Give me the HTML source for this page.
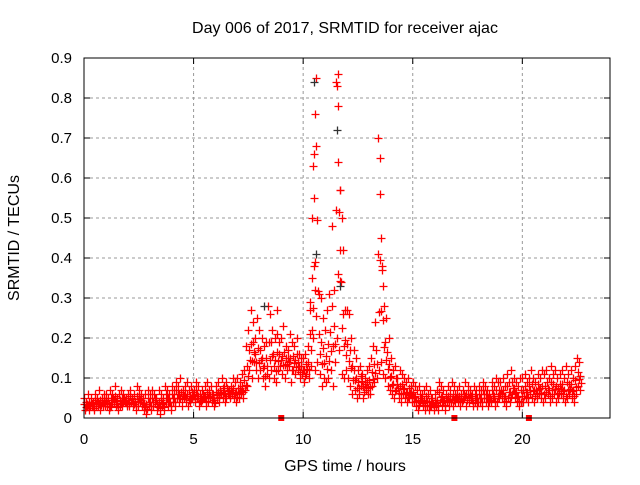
<!DOCTYPE html>
<html><head><meta charset="utf-8"><style>
body{margin:0;background:#fff;}
svg text{font-family:"Liberation Sans",sans-serif;font-size:15px;fill:#000;}
svg text.big{font-size:16px;}
</style></head><body>
<svg id="chart" width="640" height="480" xmlns="http://www.w3.org/2000/svg">
<rect width="640" height="480" fill="#fff"/>
<text class="big" x="345" y="33" text-anchor="middle">Day 006 of 2017, SRMTID for receiver ajac</text>
<text class="big" transform="translate(19,238) rotate(-90)" text-anchor="middle">SRMTID / TECUs</text>
<text class="big" x="345" y="471" text-anchor="middle">GPS time / hours</text>
<g id="grid"></g>
<g id="marks"></g>
<rect x="84" y="58" width="526" height="360" fill="none" stroke="#000" stroke-width="1"/>
</svg>
<script>
const xTicks=[0,5,10,15,20];
const yTicks=[0,0.1,0.2,0.3,0.4,0.5,0.6,0.7,0.8,0.9];
const startHour=0, stepHour=0.1;
const upperVals=[.05,.04,.06,.05,.04,.06,.05,.07,.05,.06,.06,.05,.07,.06,.08,.05,.06,.07,.06,.05,.06,.07,.05,.06,.08,.07,.06,.05,.06,.07,.06,.07,.06,.05,.07,.06,.05,.08,.07,.06,.08,.07,.09,.08,.1,.07,.08,.09,.07,.08,.07,.09,.08,.06,.07,.08,.09,.07,.08,.06,.08,.09,.07,.1,.08,.09,.07,.08,.1,.09,.1,.09,.11,.12,.18,.22,.27,.24,.2,.25,.22,.2,.18,.19,.28,.26,.22,.2,.21,.19,.2,.23,.18,.17,.21,.19,.18,.2,.16,.15,.15,.16,.18,.29,.5,.66,.85,.31,.3,.25,.22,.27,.31,.48,.32,.84,.86,.57,.42,.27,.27,.26,.2,.17,.15,.12,.13,.11,.1,.12,.13,.15,.18,.24,.7,.65,.38,.28,.25,.2,.15,.12,.13,.1,.12,.11,.1,.09,.1,.08,.09,.08,.07,.08,.06,.07,.08,.06,.07,.05,.06,.07,.09,.08,.07,.06,.08,.07,.09,.08,.07,.08,.06,.07,.09,.08,.07,.06,.08,.07,.08,.07,.09,.08,.07,.06,.09,.08,.1,.09,.09,.1,.08,.11,.09,.12,.1,.09,.08,.1,.1,.11,.09,.1,.12,.1,.09,.11,.1,.12,.11,.12,.1,.13,.11,.12,.1,.11,.12,.1,.13,.11,.12,.1,.13,.15,.14];
const lowerVals=[.02,.03,.02,.03,.02,.03,.03,.02,.03,.03,.03,.02,.03,.04,.03,.02,.03,.03,.04,.03,.03,.04,.03,.02,.03,.04,.03,.02,.01,.03,.02,.03,.04,.02,.01,.03,.02,.04,.03,.02,.04,.03,.05,.04,.03,.05,.04,.03,.04,.05,.04,.05,.03,.04,.05,.03,.04,.05,.04,.03,.05,.04,.06,.05,.04,.06,.05,.06,.05,.04,.05,.06,.05,.07,.08,.12,.1,.14,.12,.1,.12,.1,.08,.11,.1,.12,.1,.09,.12,.13,.11,.1,.12,.13,.09,.12,.11,.12,.1,.11,.09,.11,.1,.13,.2,.12,.14,.11,.08,.1,.09,.1,.12,.08,.14,.2,.17,.11,.1,.12,.1,.08,.06,.07,.05,.06,.08,.05,.07,.06,.06,.08,.09,.1,.12,.14,.11,.1,.08,.07,.06,.05,.07,.05,.04,.06,.05,.04,.05,.04,.04,.03,.02,.04,.03,.02,.03,.02,.03,.02,.03,.02,.04,.03,.02,.04,.03,.04,.03,.04,.04,.03,.04,.05,.03,.04,.05,.03,.04,.03,.04,.03,.05,.04,.03,.04,.05,.03,.04,.05,.05,.04,.03,.05,.04,.06,.05,.04,.03,.04,.04,.05,.04,.06,.05,.04,.05,.06,.05,.04,.05,.06,.04,.05,.06,.04,.05,.06,.05,.04,.05,.06,.05,.04,.06,.08,.07];
const spikeTimes=[10.5,10.55,10.6,10.45,10.5,10.6,10.5,10.55,11.55,11.6,11.55,11.6,11.7,11.75,11.7,11.7,13.55,13.5,13.6,13.65,8.2,8.8,10.3,10.4];
const spikeVals=[.84,.76,.68,.63,.55,.41,.38,.32,.83,.78,.72,.64,.57,.5,.42,.33,.45,.56,.37,.33,.28,.27,.27,.22];
const gapTimes=[9.0,16.9,20.3];

const X0=84,X1=610,Y0=418,Y1=58;
const xs=h=>X0+h/24*(X1-X0);
const ys=v=>Y0-v/0.9*(Y0-Y1);
const NS="http://www.w3.org/2000/svg";
const grid=document.getElementById('grid'), marks=document.getElementById('marks');
function mk(tag,attrs,parent){const e=document.createElementNS(NS,tag);for(const k in attrs)e.setAttribute(k,attrs[k]);parent.appendChild(e);return e;}
yTicks.forEach(v=>{
  const y=ys(v);
  if(v>0&&v<0.9){const l=mk('line',{x1:X0,x2:X1,y1:y,y2:y,stroke:'#999','stroke-dasharray':'3,3'},grid);
  
  }
  const t=mk('text',{x:X0-12,y:y+5,'text-anchor':'end'},grid);t.textContent=String(v);
  
  
  mk('line',{x1:X0,x2:X0+6,y1:y,y2:y,stroke:'#000'},grid);
  mk('line',{x1:X1,x2:X1-6,y1:y,y2:y,stroke:'#000'},grid);
});
xTicks.forEach(h=>{
  const x=xs(h);
  if(h>0){const l=mk('line',{x1:x,x2:x,y1:Y0,y2:Y1,stroke:'#999','stroke-dasharray':'3,3'},grid);
  
  }
  const t=mk('text',{x:x,y:Y0+26,'text-anchor':'middle'},grid);t.textContent=String(h);
  
  
  mk('line',{x1:x,x2:x,y1:Y0,y2:Y0-6,stroke:'#000'},grid);
  mk('line',{x1:x,x2:x,y1:Y1,y2:Y1+6,stroke:'#000'},grid);
});
function plus(h,v,col){
  const x=Math.round(xs(h))+0.5,y=Math.round(ys(v))+0.5;
  const p=mk('path',{d:`M${x-4},${y}h8M${x},${y-4}v8`,stroke:col,'stroke-width':1.3,fill:'none'},marks);
  
  
}
upperVals.forEach((v,i)=>{
  const h=startHour+i*stepHour, lo=lowerVals[i];
  const mid=(v+lo)/2;
  plus(h+0.05,lo,'#f00');
  plus(h+0.02,mid,'#f00');
  plus(h+0.07,(mid+lo)/2,'#f00');
  plus(h,v,'#f00');
});
spikeTimes.forEach((h,i)=>plus(h,spikeVals[i],i%5===0?'#333':'#f00'));
gapTimes.forEach(h=>{
  const r=mk('rect',{x:xs(h)-3,y:Y0-3,width:6,height:6,fill:'#f00'},marks);
  
  
});
</script>
</body></html>
